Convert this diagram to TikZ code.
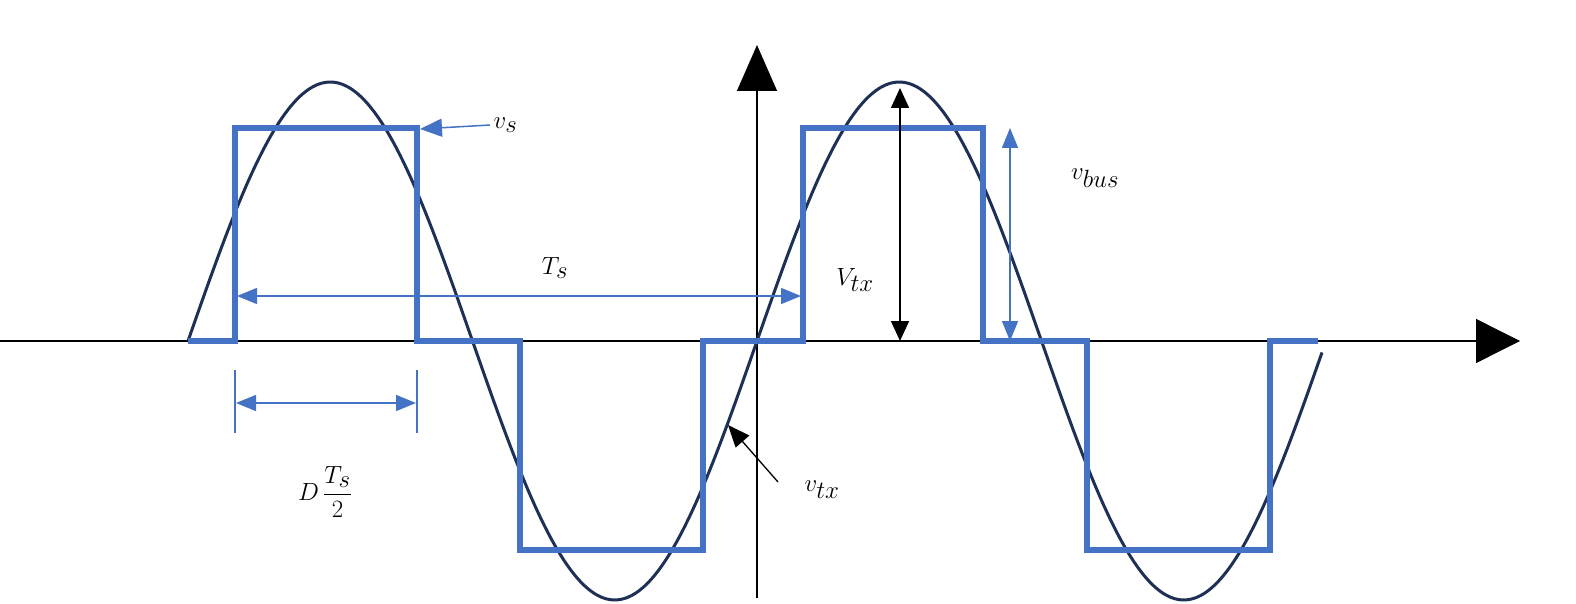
\documentclass[tikz,border=0pt]{standalone}
\usetikzlibrary{arrows.meta}
\definecolor{sq}{HTML}{4472C4}
\definecolor{sn}{HTML}{1F3056}
\begin{document}
\begin{tikzpicture}[x=1pt,y=-1pt,
  lbl/.style={font=\fontsize{50}{60}\selectfont},
  bluearr/.style={sq,line width=1.5pt,{Triangle[length=20pt,width=16pt]}-{Triangle[length=20pt,width=16pt]}},
  blackarr/.style={black,line width=1.5pt,{Triangle[length=20pt,width=18pt]}-{Triangle[length=20pt,width=18pt]}}]
\useasboundingbox (0,0) rectangle (1576,604);
% axes
\coordinate (xl) at (0,341); \coordinate (xr) at (1520,341);
\coordinate (yb) at (757,598); \coordinate (yt) at (757,45);
\draw[line width=1.3pt,-{Triangle[length=44pt,width=44pt]}] (xl) -- (xr);
\draw[line width=1.3pt,-{Triangle[length=46pt,width=40pt]}] (yb) -- (yt);
% sine
\draw[sn,line width=3pt,domain=188:1322,samples=300,smooth] plot (\x,{341-259*sin((\x-188)/569*360)});
% square wave
\draw[sq,line width=6pt,line join=miter] (188,341) -- (235,341) -- (235,128) -- (417,128) -- (417,341) -- (520,341) -- (520,550) -- (703,550) -- (703,341) -- (803,341) -- (803,128) -- (983,128) -- (983,341) -- (1087,341) -- (1087,550) -- (1270,550) -- (1270,341) -- (1318,341);
% v_s
\node[lbl,anchor=west] (vs) at (490,125) {$v_s$};
\coordinate (vsp) at (420,129);
\draw[sq,line width=1.5pt,-{Triangle[length=22pt,width=18pt]}] (vs.west) -- (vsp);
% T_s
\coordinate (ta) at (237,296); \coordinate (tb) at (801,296);
\draw[bluearr] (ta) -- (tb);
\node[lbl] (ts) at (555,268) {$T_s$};
% D Ts/2
\coordinate (d1a) at (235,370); \coordinate (d1b) at (235,433);
\coordinate (d2a) at (417,370); \coordinate (d2b) at (417,433);
\draw[sq,line width=1.5pt] (d1a) -- (d1b) (d2a) -- (d2b);
\coordinate (da) at (236,403); \coordinate (db) at (416,403);
\draw[bluearr] (da) -- (db);
\node[lbl] (dl) at (325,492) {$D\,\displaystyle\frac{T_s}{2}$};
% V_tx
\coordinate (va) at (900,88); \coordinate (vb) at (900,341);
\draw[blackarr] (va) -- (vb);
\node[lbl] (vtx) at (855,280) {$V_{tx}$};
% v_bus
\coordinate (ba) at (1010,128); \coordinate (bb) at (1010,341);
\draw[bluearr] (ba) -- (bb);
\node[lbl] (vbus) at (1095,178) {$v_{bus}$};
% v_tx
\node[lbl] (vtxl) at (822,490) {$v_{tx}$};
\coordinate (vtp) at (728,425);
\draw[line width=1.3pt,-{Triangle[length=22pt,width=18pt]}] (778,482) -- (vtp);
\end{tikzpicture}
\end{document}
